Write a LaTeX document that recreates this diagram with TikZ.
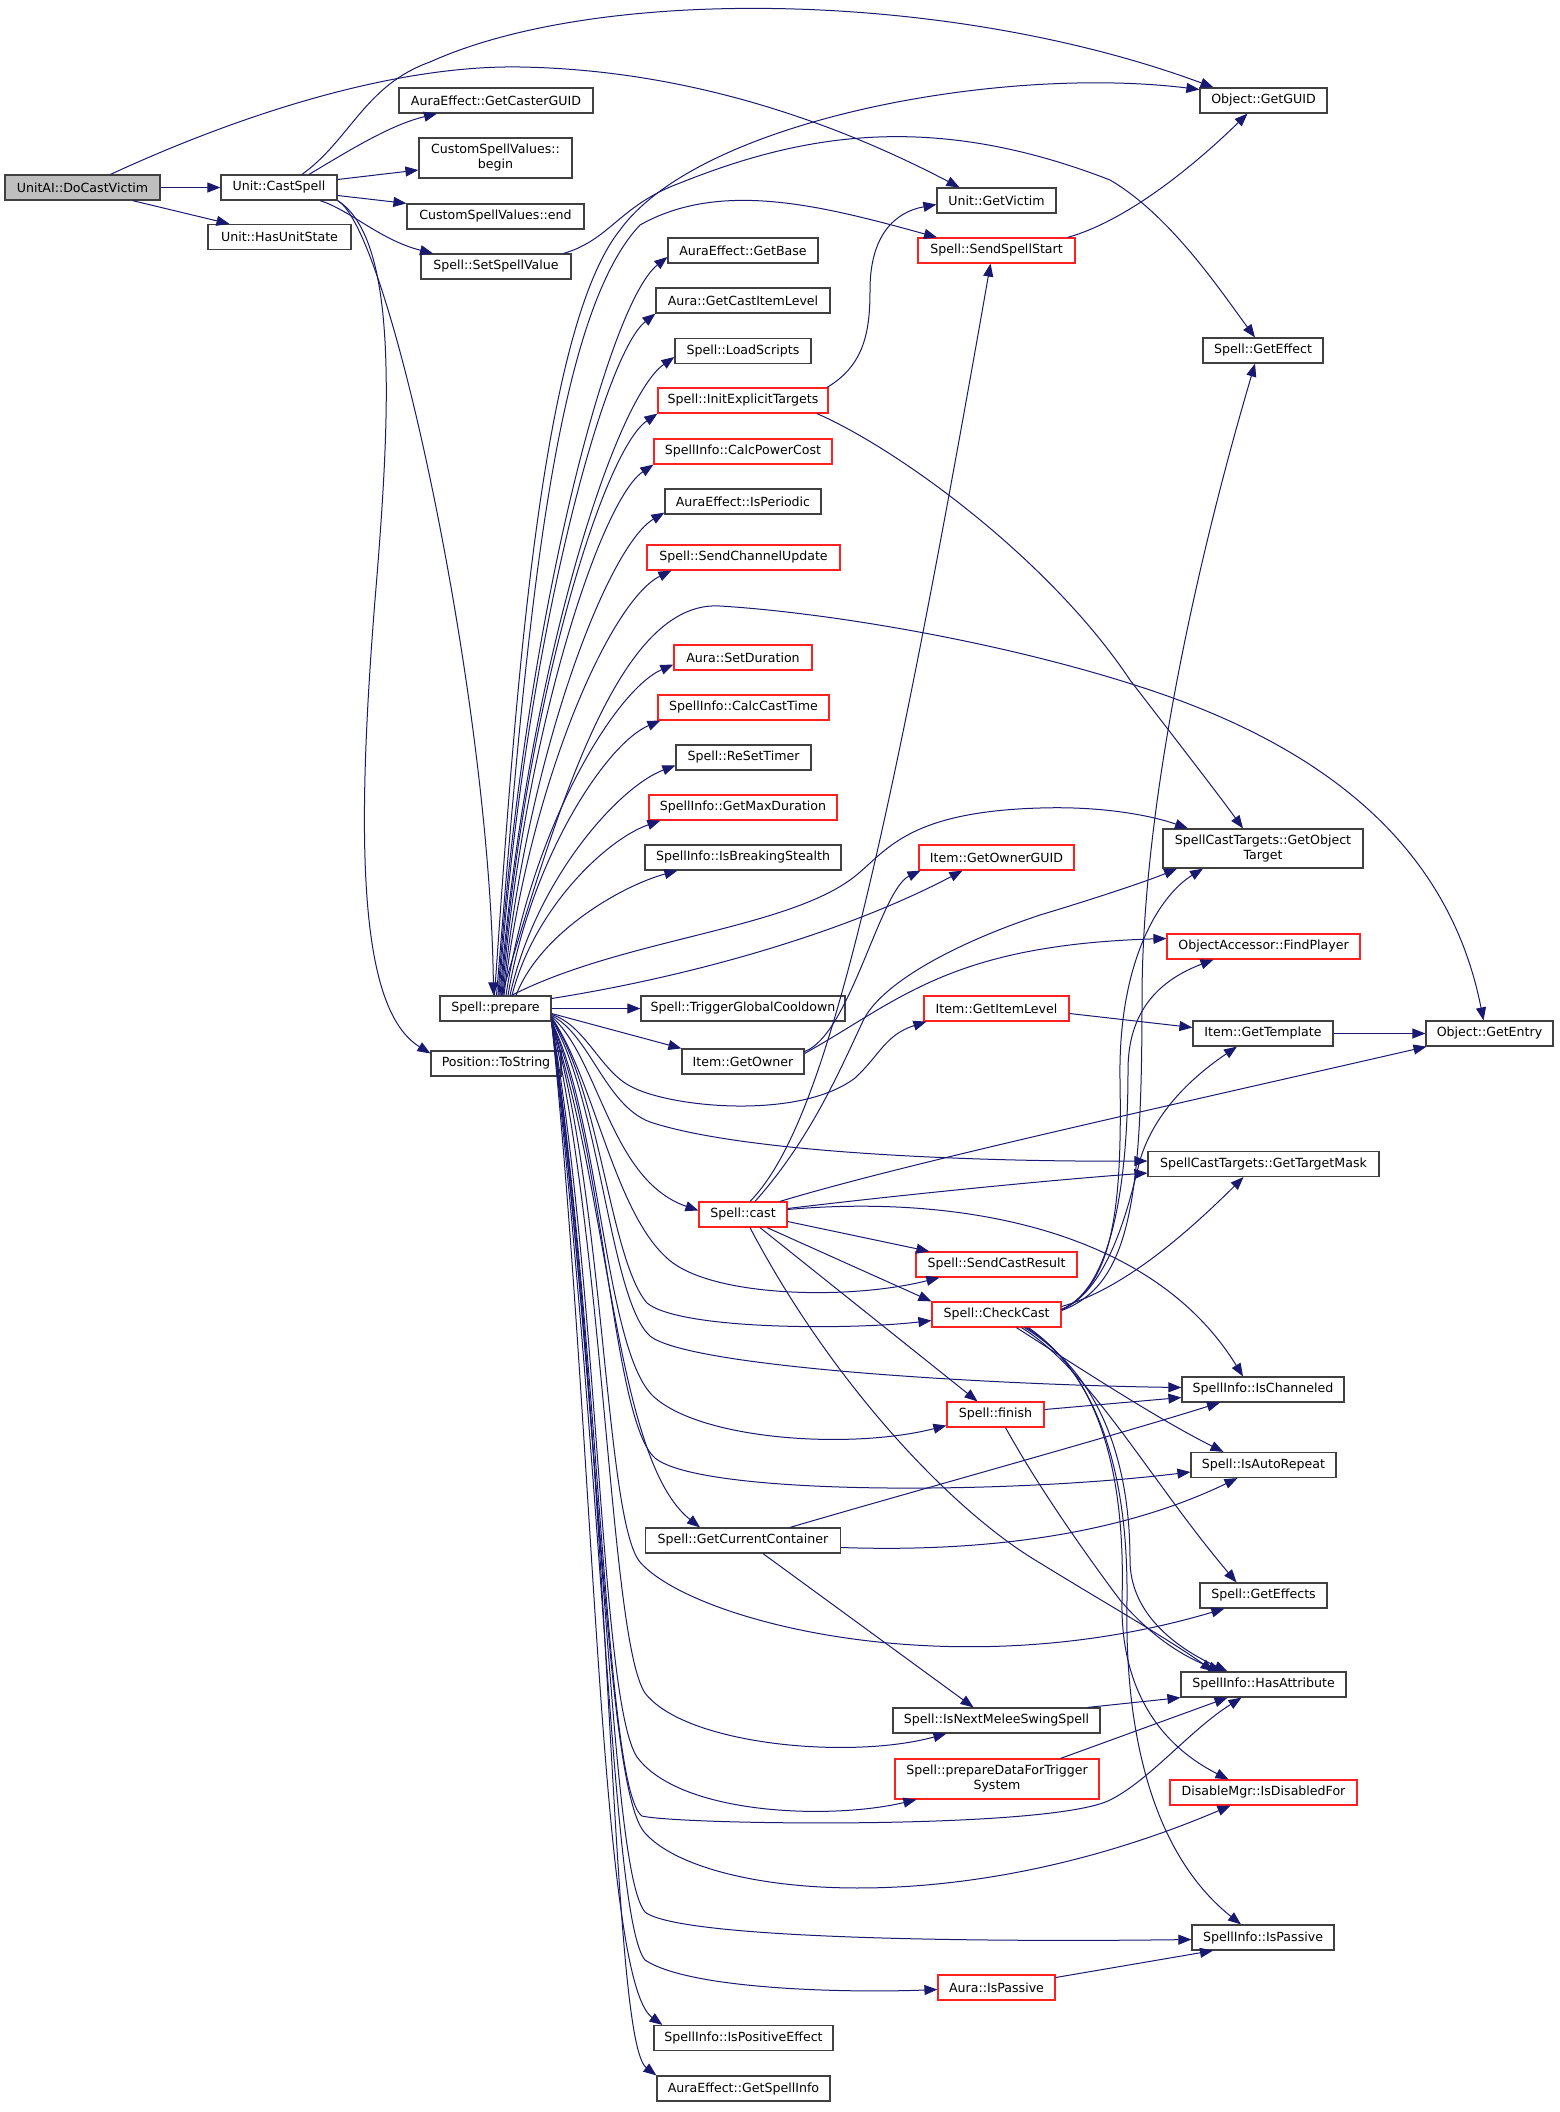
\documentclass[tikz,border=0pt]{standalone}
\usepackage{fontspec}
\setmainfont{DejaVu Sans}
\usetikzlibrary{arrows.meta}
\definecolor{edgec}{HTML}{191970}
\definecolor{boxc}{HTML}{404040}
\definecolor{redc}{HTML}{FF2020}
\definecolor{grayc}{HTML}{BFBFBF}
\begin{document}
\begin{tikzpicture}[x=1pt,y=-1pt,
 fn/.style={draw=boxc, line width=1.2pt, fill=white, inner sep=0pt, minimum height=25pt, align=center, font=\fontsize{12.6}{15}\selectfont},
 fnred/.style={fn, draw=redc},
 fngray/.style={fn, fill=grayc},
 e/.style={draw=edgec, line width=1pt, -{Triangle[length=13pt,width=10pt]}}]
\path[use as bounding box, fill=white] (0,0) rectangle (1559,2112);
% nodes
\node[fngray, minimum width=155pt] (dcv) at (82.5,187.5) {UnitAI::DoCastVictim};
\node[fn, minimum width=116pt] (cs) at (279,187.5) {Unit::CastSpell};
\node[fn, minimum width=143pt] (hus) at (279.5,237) {Unit::HasUnitState};
\node[fn, minimum width=194pt] (gcg) at (496,100.5) {AuraEffect::GetCasterGUID};
\node[fn, minimum width=153pt, minimum height=40pt] (csvb) at (495.5,158) {CustomSpellValues::\\begin};
\node[fn, minimum width=177pt] (csve) at (495.5,216.5) {CustomSpellValues::end};
\node[fn, minimum width=150pt] (ssv) at (496,266.5) {Spell::SetSpellValue};
\node[fn, minimum width=111pt] (prep) at (495.5,1008.5) {Spell::prepare};
\node[fn, minimum width=130pt] (pts) at (496,1063.5) {Position::ToString};
\node[fn, minimum width=127pt] (gguid) at (1263.5,100.5) {Object::GetGUID};
\node[fn, minimum width=119pt] (gvic) at (996.5,200.5) {Unit::GetVictim};
\node[fnred, minimum width=157pt] (sss) at (996.5,250.5) {Spell::SendSpellStart};
\node[fn, minimum width=150pt] (gbase) at (743,250.5) {AuraEffect::GetBase};
\node[fn, minimum width=174pt] (gcil) at (743,300.5) {Aura::GetCastItemLevel};
\node[fn, minimum width=136pt] (ls) at (743,351) {Spell::LoadScripts};
\node[fnred, minimum width=170pt] (iet) at (743,400.5) {Spell::InitExplicitTargets};
\node[fnred, minimum width=178pt] (cpc) at (743,451.5) {SpellInfo::CalcPowerCost};
\node[fn, minimum width=156pt] (iper) at (743,501.5) {AuraEffect::IsPeriodic};
\node[fnred, minimum width=193pt] (scu) at (743.5,557.5) {Spell::SendChannelUpdate};
\node[fnred, minimum width=138pt] (sdur) at (743,657.5) {Aura::SetDuration};
\node[fnred, minimum width=171pt] (cct) at (743.5,707.5) {SpellInfo::CalcCastTime};
\node[fn, minimum width=135pt] (rst) at (743.5,757.5) {Spell::ReSetTimer};
\node[fnred, minimum width=188pt] (gmd) at (743,807.5) {SpellInfo::GetMaxDuration};
\node[fn, minimum width=196pt] (ibs) at (743,857.5) {SpellInfo::IsBreakingStealth};
\node[fn, minimum width=204pt] (tgc) at (743,1008.5) {Spell::TriggerGlobalCooldown};
\node[fn, minimum width=122pt] (gown) at (743,1061.5) {Item::GetOwner};
\node[fn, minimum width=120pt] (geff) at (1263,350.5) {Spell::GetEffect};
\node[fnred, minimum width=155pt] (gog) at (996.5,857.5) {Item::GetOwnerGUID};
\node[fnred, minimum width=145pt] (gil) at (996.5,1008.5) {Item::GetItemLevel};
\node[fn, minimum width=200pt, minimum height=39pt] (got) at (1263,848.5) {SpellCastTargets::GetObject\\Target};
\node[fnred, minimum width=193pt] (fp) at (1263.5,946.5) {ObjectAccessor::FindPlayer};
\node[fn, minimum width=140pt] (gtpl) at (1263,1033.5) {Item::GetTemplate};
\node[fn, minimum width=127pt] (gent) at (1489.5,1033.5) {Object::GetEntry};
\node[fnred, minimum width=88pt] (cast) at (743,1214.5) {Spell::cast};
\node[fnred, minimum width=161pt] (scr) at (996.5,1264.5) {Spell::SendCastResult};
\node[fnred, minimum width=129pt] (cc) at (996.5,1314.5) {Spell::CheckCast};
\node[fnred, minimum width=97pt] (fin) at (995.5,1414.5) {Spell::finish};
\node[fn, minimum width=195pt] (gcc) at (743,1540.5) {Spell::GetCurrentContainer};
\node[fn, minimum width=231pt] (gtm) at (1263.5,1164) {SpellCastTargets::GetTargetMask};
\node[fn, minimum width=162pt] (ich) at (1263,1389.5) {SpellInfo::IsChanneled};
\node[fn, minimum width=145pt] (iar) at (1263.5,1465) {Spell::IsAutoRepeat};
\node[fn, minimum width=127pt] (geffs) at (1263.5,1595.5) {Spell::GetEffects};
\node[fn, minimum width=165pt] (hattr) at (1263.5,1684.5) {SpellInfo::HasAttribute};
\node[fnred, minimum width=187pt] (dis) at (1263.5,1792.5) {DisableMgr::IsDisabledFor};
\node[fn, minimum width=142pt] (sip) at (1263,1937.5) {SpellInfo::IsPassive};
\node[fn, minimum width=207pt] (nms) at (996.5,1720.5) {Spell::IsNextMeleeSwingSpell};
\node[fnred, minimum width=204pt, minimum height=40pt] (pdt) at (997,1779) {Spell::prepareDataForTrigger\\System};
\node[fnred, minimum width=117pt] (aip) at (996.5,1987.5) {Aura::IsPassive};
\node[fn, minimum width=179pt] (ipe) at (743.5,2038) {SpellInfo::IsPositiveEffect};
\node[fn, minimum width=173pt] (gsi) at (743.5,2088.5) {AuraEffect::GetSpellInfo};
% DoCastVictim
\draw[e] (dcv.east) -- (cs.west);
\draw[e] ([xshift=50pt]dcv.south) -- ([xshift=-50pt]hus.north);
\draw[e] ([xshift=28pt]dcv.north) .. controls (250,110) and (400,65) .. (520,67) .. controls (700,70) and (850,130) .. ([xshift=-37pt]gvic.north);
% CastSpell
\draw[e] ([xshift=23pt]cs.north) .. controls (350,140) and (365,85) .. (430,62) .. controls (600,-15) and (950,-10) .. ([xshift=-50pt]gguid.north);
\draw[e] ([xshift=30pt]cs.north) .. controls (350,150) and (390,125) .. ([xshift=-59pt]gcg.south);
\draw[e] ([yshift=8pt]cs.east) -- ([yshift=-12pt]csvb.west);
\draw[e] ([yshift=-8pt]cs.east) -- (csve.north west);
\draw[e] ([xshift=41pt]cs.south) .. controls (350,210) and (380,240) .. ([xshift=-63pt]ssv.north);
\draw[e] (cs.south east) .. controls (390,230) and (490,700) .. ([xshift=-2pt]prep.north);
\draw[e] (cs.south east) .. controls (400,240) and (390,420) .. (375,600) .. controls (355,850) and (360,1010) .. ([yshift=10pt]pts.west);
% prepare upward fan
\draw[e] ([xshift=-1pt]prep.north) .. controls (515,700) and (540,330) .. (620,230) .. controls (700,120) and (1000,65) .. ([yshift=11pt]gguid.west);
\draw[e] ([xshift=1pt]prep.north) .. controls (525,650) and (550,320) .. (640,225) .. controls (720,180) and (820,205) .. ([xshift=-59.5pt]sss.north);
\draw[e] ([xshift=2.5pt]prep.north) .. controls (523,627) and (608,304) .. ([yshift=-6.5pt]gbase.west);
\draw[e] ([xshift=3.5pt]prep.north) .. controls (523,654) and (602,356) .. (gcil.south west);
\draw[e] ([xshift=4.5pt]prep.north) .. controls (526,676) and (614,399) .. ([yshift=-6pt]ls.west);
\draw[e] ([xshift=5.5pt]prep.north) .. controls (525,704) and (603,451) .. (iet.south west);
\draw[e] ([xshift=6.5pt]prep.north) .. controls (525,729) and (601,500) .. (cpc.south west);
\draw[e] ([xshift=7.5pt]prep.north) .. controls (527,754) and (608,546) .. ([yshift=2pt]iper.south west);
\draw[e] ([xshift=8.5pt]prep.north) .. controls (529,782) and (611,600) .. ([xshift=25pt]scu.south west);
\draw[e] ([xshift=10.5pt]prep.north) .. controls (531,829) and (615,690) .. ([yshift=-7pt]sdur.west);
\draw[e] ([xshift=12.5pt]prep.north) .. controls (531,857) and (607,743) .. ([xshift=3pt]cct.south west);
\draw[e] ([xshift=14.5pt]prep.north) .. controls (535,881) and (618,787) .. ([yshift=-8pt]rst.west);
\draw[e] ([xshift=16.5pt]prep.north) .. controls (534,908) and (607,839) .. ([xshift=12pt]gmd.south west);
\draw[e] ([xshift=20.5pt]prep.north) .. controls (540,933) and (621,886) .. ([xshift=33pt]ibs.south west);
\draw[e] ([xshift=6pt]prep.north) .. controls (560,800) and (620,600) .. (720,606) .. controls (820,612) and (1000,640) .. (1150,690) .. controls (1330,750) and (1450,850) .. ([xshift=-6pt]gent.north);
\draw[e] ([xshift=16pt]prep.north) .. controls (620,940) and (780,930) .. (850,880) .. controls (885,855) and (900,812) .. (1040,808) .. controls (1100,806) and (1150,815) .. ([xshift=-75pt]got.north);
\draw[e] ([yshift=10pt]prep.east) .. controls (700,975) and (850,930) .. ([xshift=-34pt]gog.south);
\draw[e] (prep.east) -- (tgc.west);
\draw[e] ([yshift=-5pt]prep.east) -- (gown.north west);
% prepare downward fan
\draw[e] ([yshift=-6pt]prep.east) .. controls (585,1025) and (600,1070) .. (630,1086) .. controls (670,1108) and (800,1120) .. (855,1078) .. controls (880,1055) and (885,1035) .. ([xshift=3pt]gil.south west);
\draw[e] ([yshift=-7pt]prep.east) .. controls (590,1035) and (605,1105) .. (650,1122) .. controls (750,1155) and (1000,1162) .. ([yshift=3pt]gtm.west);
\draw[e] ([yshift=-8pt]prep.east) .. controls (600,1060) and (610,1180) .. ([yshift=4pt]cast.west);
\draw[e] ([yshift=-9pt]prep.east) .. controls (595,1080) and (615,1220) .. (673,1263) .. controls (720,1297) and (850,1300) .. ([xshift=24pt]scr.south west);
\draw[e] ([yshift=-10pt]prep.east) .. controls (600,1090) and (610,1260) .. (647,1303) .. controls (680,1330) and (850,1330) .. ([yshift=-6pt]cc.west);
\draw[e] ([yshift=-11pt]prep.east) .. controls (600,1100) and (610,1300) .. (650,1336) .. controls (690,1368) and (1000,1385) .. ([yshift=2pt]ich.west);
\draw[e] (prep.south east) .. controls (600,1120) and (605,1350) .. (653,1396) .. controls (700,1440) and (850,1450) .. ([yshift=-11pt]fin.west);
\draw[e] (prep.south east) .. controls (605,1150) and (612,1420) .. (655,1458) .. controls (700,1495) and (1000,1495) .. ([yshift=-7pt]iar.west);
\draw[e] (prep.south east) .. controls (610,1200) and (615,1460) .. ([xshift=-43pt]gcc.north);
\draw[e] (prep.south east) .. controls (605,1200) and (605,1520) .. (640,1562) .. controls (690,1620) and (950,1690) .. ([xshift=25pt]geffs.south west);
\draw[e] (prep.south east) .. controls (605,1250) and (610,1640) .. (645,1693) .. controls (685,1745) and (850,1760) .. ([xshift=54pt]nms.south west);
\draw[e] (prep.south east) .. controls (600,1300) and (600,1700) .. (637,1757) .. controls (680,1815) and (830,1820) .. ([xshift=22pt]pdt.south west);
\draw[e] (prep.south east) .. controls (600,1350) and (605,1790) .. (642,1816) .. controls (680,1825) and (1050,1830) .. (1110,1800) .. controls (1150,1780) and (1190,1730) .. ([xshift=-22pt]hattr.south);
\draw[e] (prep.south east) .. controls (600,1400) and (605,1790) .. (645,1833) .. controls (700,1895) and (950,1925) .. ([xshift=-33pt]dis.south);
\draw[e] (prep.south east) .. controls (605,1450) and (610,1870) .. (645,1912) .. controls (680,1940) and (1000,1942) .. ([yshift=-2pt]sip.west);
\draw[e] (prep.south east) .. controls (605,1500) and (612,1920) .. (645,1960) .. controls (690,1990) and (850,1993) .. ([yshift=-2pt]aip.west);
\draw[e] (prep.south east) .. controls (595,1450) and (600,1980) .. ([xshift=9pt]ipe.north west);
\draw[e] (prep.south east) .. controls (612,1450) and (610,2040) .. (gsi.north west);
% other upper edges
\draw[e] ([xshift=-8pt]ssv.north east) .. controls (610,240) and (620,205) .. (680,183) .. controls (800,135) and (930,110) .. (1110,180) .. controls (1170,215) and (1220,290) .. ([xshift=-8pt]geff.north);
\draw[e] ([xshift=84pt]iet.north) .. controls (865,365) and (870,330) .. (870,290) .. controls (870,235) and (895,212) .. ([yshift=-4pt]gvic.west);
\draw[e] ([xshift=74pt]iet.south) .. controls (900,450) and (1050,560) .. (1130,680) .. controls (1180,745) and (1215,790) .. ([xshift=-20pt]got.north);
\draw[e] ([xshift=-8pt]sss.north east) .. controls (1130,220) and (1200,160) .. ([xshift=-16pt]gguid.south);
% Item::GetOwner
\draw[e] ([yshift=10pt]gown.east) .. controls (850,1035) and (880,890) .. ([xshift=-76pt]gog.south);
\draw[e] ([yshift=8pt]gown.east) .. controls (900,1000) and (950,945) .. ([yshift=8pt]fp.west);
% Spell::cast
\draw[e] ([xshift=7pt]cast.north) .. controls (820,1130) and (879,900) .. ([xshift=-6pt]sss.south);
\draw[e] ([xshift=12pt]cast.north) .. controls (810,1140) and (840,1070) .. (863,1021) .. controls (880,985) and (950,945) .. (1040,915) .. controls (1100,897) and (1150,880) .. ([xshift=-86pt]got.south);
\draw[e] ([xshift=37pt]cast.north) .. controls (900,1165) and (1150,1110) .. ([xshift=-63pt]gent.south);
\draw[e] ([yshift=6pt]cast.east) .. controls (900,1195) and (1050,1180) .. ([yshift=-9pt]gtm.west);
\draw[e] ([yshift=5pt]cast.east) .. controls (950,1195) and (1150,1225) .. ([xshift=-20pt]ich.north);
\draw[e] ([yshift=-7pt]cast.east) -- ([xshift=14pt]scr.north west);
\draw[e] ([xshift=24pt]cast.south) -- (cc.north west);
\draw[e] ([xshift=17pt]cast.south) -- ([xshift=-18pt]fin.north);
\draw[e] ([xshift=7pt]cast.south) .. controls (830,1380) and (950,1510) .. (1040,1563) .. controls (1100,1600) and (1170,1640) .. ([xshift=-50pt]hattr.north);
% Spell::CheckCast
\draw[e] ([yshift=4pt]cc.east) .. controls (1130,1285) and (1142,1200) .. (1142,1000) .. controls (1142,800) and (1200,550) .. ([xshift=-8pt]geff.south);
\draw[e] ([yshift=5pt]cc.east) .. controls (1115,1285) and (1122,1200) .. (1120,1080) .. controls (1118,960) and (1160,895) .. ([xshift=-60pt]got.south);
\draw[e] ([yshift=5pt]cc.east) .. controls (1120,1285) and (1128,1150) .. (1128,1070) .. controls (1128,1010) and (1160,980) .. ([xshift=-50pt]fp.south);
\draw[e] ([yshift=5pt]cc.east) .. controls (1110,1290) and (1130,1200) .. (1140,1160) .. controls (1155,1110) and (1195,1075) .. ([xshift=-26pt]gtpl.south);
\draw[e] ([yshift=8pt]cc.east) .. controls (1120,1290) and (1180,1240) .. ([xshift=-20pt]gtm.south);
\draw[e] ([xshift=20pt]cc.south) .. controls (1090,1375) and (1160,1420) .. ([xshift=-40pt]iar.north);
\draw[e] ([xshift=25pt]cc.south) .. controls (1090,1370) and (1150,1480) .. ([xshift=-27pt]geffs.north);
\draw[e] ([xshift=28pt]cc.south) .. controls (1110,1380) and (1130,1480) .. (1130,1560) .. controls (1130,1610) and (1170,1645) .. ([xshift=-36pt]hattr.north);
\draw[e] ([xshift=30pt]cc.south) .. controls (1110,1380) and (1125,1500) .. (1122,1600) .. controls (1120,1700) and (1170,1750) .. ([xshift=-35pt]dis.north);
\draw[e] ([xshift=32pt]cc.south) .. controls (1110,1385) and (1128,1500) .. (1127,1600) .. controls (1124,1750) and (1160,1860) .. ([xshift=-22pt]sip.north);
% Spell::finish
\draw[e] ([yshift=5pt]fin.east) -- ([yshift=-8pt]ich.west);
\draw[e] ([xshift=10pt]fin.south) .. controls (1040,1490) and (1090,1560) .. (1120,1600) .. controls (1150,1635) and (1180,1655) .. ([xshift=-42pt]hattr.north);
% Spell::GetCurrentContainer
\draw[e] ([xshift=47pt]gcc.north) .. controls (900,1495) and (1100,1440) .. ([xshift=-43pt]ich.south);
\draw[e] ([yshift=-7pt]gcc.east) .. controls (1000,1553) and (1130,1530) .. ([xshift=-26pt]iar.south);
\draw[e] ([xshift=20pt]gcc.south) -- ([xshift=-23pt]nms.north);
% others
\draw[e] ([xshift=-13pt]nms.north east) -- (hattr.south west);
\draw[e] ([xshift=-39pt]pdt.north east) -- ([xshift=-36pt]hattr.south);
\draw[e] ([yshift=10pt]aip.east) -- ([xshift=-50pt]sip.south);
\draw[e] ([yshift=-5pt]gil.east) -- ([yshift=6pt]gtpl.west);
\draw[e] (gtpl.east) -- (gent.west);
\end{tikzpicture}
\end{document}
